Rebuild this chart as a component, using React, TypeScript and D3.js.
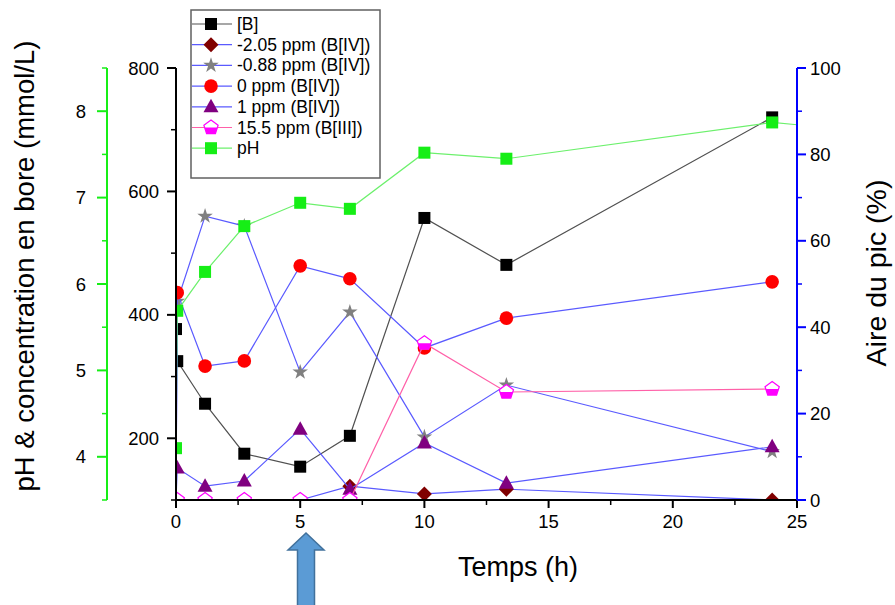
import React from "react";
import * as d3 from "d3";

// ---- data ----
const timeNMR = [0, 0.05, 1.17, 2.75, 5, 7, 10, 13.3, 24];
const boreConc = [377, 325, 256, 175, 154, 204, 557, 481, 720];
const areaM205 = [0, 0, 0, 0, 0, 3.2, 1.4, 2.5, 0];
const areaM088 = [0, 46, 65.7, 63.4, 29.6, 43.5, 14.6, 26.6, 11.2];
const area0 = [0, 48, 31, 32.2, 54.2, 51.2, 35.2, 42.1, 50.5];
const area1 = [0, 7.4, 3.2, 4.4, 16.4, 2.5, 13.2, 3.9, 12.3];
const area155 = [0, 0, 0, 0, 0, 0, 36.3, 25, 25.7];
const timePH = [0, 0.05, 1.17, 2.75, 5, 7, 10, 13.3, 24, 48];
const pHvals = [4.1, 5.69, 6.14, 6.67, 6.94, 6.87, 7.52, 7.45, 7.87, 7.23];

const xTicks = [0, 5, 10, 15, 20, 25];
const concTicks = [200, 400, 600, 800];
const pHTicks = [4, 5, 6, 7, 8];
const areaTicks = [0, 20, 40, 60, 80, 100];

const legendLabels = [
  "[B]",
  "-2.05 ppm (B[IV])",
  "-0.88 ppm (B[IV])",
  "0 ppm (B[IV])",
  "1 ppm (B[IV])",
  "15.5 ppm (B[III])",
  "pH",
];

// ---- layout ----
const W = 895, H = 605;
const X0 = 176, X1 = 797, YT = 68, YB = 500;
const GREEN_X = 107;
const FONT = "'Liberation Sans', Arial, sans-serif";

const x = d3.scaleLinear().domain([0, 25]).range([X0, X1]);
const yConc = d3.scaleLinear().domain([100, 800]).range([YB, YT]);
const yPH = d3.scaleLinear().domain([3.5, 8.5]).range([YB, YT]);
const yArea = d3.scaleLinear().domain([0, 100]).range([YB, YT]);

const BLUE_LINE = "#5a5aff";
const GREEN = "#16ee16";
const GREEN_LINE = "#6cf06c";
const PINK_LINE = "#ff60a8";

type MarkerKind = "square" | "diamond" | "star" | "circle" | "triangle" | "pentagon" | "greensq";

function Marker({ kind, cx, cy }: { kind: MarkerKind; cx: number; cy: number }) {
  const t = `translate(${cx},${cy})`;
  if (kind === "square")
    return <rect x={cx - 6} y={cy - 6} width={12} height={12} fill="#000" />;
  if (kind === "greensq")
    return <rect x={cx - 6} y={cy - 6} width={12} height={12} fill={GREEN} />;
  if (kind === "circle") return <circle cx={cx} cy={cy} r={6.8} fill="#ff0000" />;
  if (kind === "diamond")
    return <path transform={t} d="M0,-7.5L7.5,0L0,7.5L-7.5,0Z" fill="#800000" />;
  if (kind === "star")
    return <path transform={t} d={d3.symbol(d3.symbolStar, 75)() || ""} fill="#808080" />;
  if (kind === "triangle")
    return <path transform={t} d="M0,-8L7.5,5.5L-7.5,5.5Z" fill="#800080" />;
  // pentagon half filled
  const r = 7.5;
  const pts = d3.range(5).map((i) => {
    const a = ((-90 + i * 72) * Math.PI) / 180;
    return [r * Math.cos(a), r * Math.sin(a)];
  });
  const cut = r * Math.cos((-18 * Math.PI) / 180) - 0.7;
  return (
    <g transform={t}>
      <polygon points={pts.map((p) => p.join(",")).join(" ")} fill="#fff" />
      <polygon
        points={`${cut},0 ${pts[2][0]},${pts[2][1]} ${pts[3][0]},${pts[3][1]} ${-cut},0`}
        fill="#ff00ff"
      />
      <polygon points={pts.map((p) => p.join(",")).join(" ")} fill="none" stroke="#ff00ff" strokeWidth={1.2} />
    </g>
  );
}

type Series = {
  times: number[];
  vals: number[];
  y: d3.ScaleLinear<number, number>;
  line: string;
  marker: MarkerKind;
};

const series: Series[] = [
  { times: timeNMR, vals: boreConc, y: yConc, line: "#505050", marker: "square" },
  { times: timeNMR, vals: areaM205, y: yArea, line: BLUE_LINE, marker: "diamond" },
  { times: timeNMR, vals: areaM088, y: yArea, line: BLUE_LINE, marker: "star" },
  { times: timeNMR, vals: area0, y: yArea, line: BLUE_LINE, marker: "circle" },
  { times: timeNMR, vals: area1, y: yArea, line: BLUE_LINE, marker: "triangle" },
  { times: timeNMR, vals: area155, y: yArea, line: PINK_LINE, marker: "pentagon" },
  { times: timePH, vals: pHvals, y: yPH, line: GREEN_LINE, marker: "greensq" },
];

export default function App() {
  const tickFont = 18.5;
  const xMinor = d3.range(2.5, 25, 5);
  const concMinor = [100, 300, 500, 700];
  const pHMinor = d3.range(3.5, 8.6, 1);
  const areaMinor = d3.range(10, 100, 20);

  return (
    <svg
      width={W}
      height={H}
      viewBox={`0 0 ${W} ${H}`}
      style={{ position: "absolute", left: 0, top: 0, background: "#fff" }}
      fontFamily={FONT}
    >
      <defs>
        <clipPath id="plot">
          <rect x={X0} y={YT} width={X1 - X0} height={YB - YT} />
        </clipPath>
      </defs>

      {/* series */}
      <g clipPath="url(#plot)">
        {series.map((s, i) => {
          const line = d3
            .line<number>()
            .x((_, j) => x(s.times[j]))
            .y((v) => s.y(v));
          return (
            <g key={i}>
              <path d={line(s.vals) || ""} fill="none" stroke={s.line} strokeWidth={1.2} />
              {s.vals.map((v, j) => (
                <Marker key={j} kind={s.marker} cx={x(s.times[j])} cy={s.y(v)} />
              ))}
            </g>
          );
        })}
      </g>

      {/* x axis */}
      <line x1={X0} x2={X1} y1={YB} y2={YB} stroke="#000" strokeWidth={2} />
      {xTicks.map((t) => (
        <g key={t}>
          <line x1={x(t)} x2={x(t)} y1={YB} y2={YB + 8} stroke="#000" strokeWidth={2} />
          <text x={x(t)} y={YB + 28} textAnchor="middle" fontSize={tickFont}>
            {t}
          </text>
        </g>
      ))}
      {xMinor.map((t) => (
        <line key={t} x1={x(t)} x2={x(t)} y1={YB} y2={YB + 5} stroke="#000" strokeWidth={1.5} />
      ))}
      <text x={518} y={576} textAnchor="middle" fontSize={27}>
        Temps (h)
      </text>

      {/* left conc axis */}
      <line x1={X0} x2={X0} y1={YT} y2={YB + 1} stroke="#000" strokeWidth={2} />
      {concTicks.map((v) => (
        <g key={v}>
          <line x1={X0 - 9} x2={X0} y1={yConc(v)} y2={yConc(v)} stroke="#000" strokeWidth={2} />
          <text x={X0 - 17} y={yConc(v) + 6.5} textAnchor="end" fontSize={tickFont}>
            {v}
          </text>
        </g>
      ))}
      {concMinor.map((v) => (
        <line key={v} x1={X0 - 5} x2={X0} y1={yConc(v)} y2={yConc(v)} stroke="#000" strokeWidth={1.5} />
      ))}

      {/* green pH axis */}
      <line x1={GREEN_X} x2={GREEN_X} y1={YT} y2={YB} stroke={GREEN} strokeWidth={2} />
      {pHTicks.map((v) => (
        <g key={v}>
          <line x1={GREEN_X - 10} x2={GREEN_X} y1={yPH(v)} y2={yPH(v)} stroke={GREEN} strokeWidth={2} />
          <text x={81} y={yPH(v) + 6.5} textAnchor="middle" fontSize={tickFont}>
            {v}
          </text>
        </g>
      ))}
      {pHMinor.map((v) => (
        <line key={v} x1={GREEN_X - 5} x2={GREEN_X} y1={yPH(v)} y2={yPH(v)} stroke={GREEN} strokeWidth={1.5} />
      ))}
      <text
        transform={`translate(34,266) rotate(-90)`}
        textAnchor="middle"
        fontSize={27.5}
      >
        pH &amp; concentration en bore (mmol/L)
      </text>

      {/* right area axis */}
      <line x1={X1} x2={X1} y1={YT} y2={YB} stroke="#0000ff" strokeWidth={2} />
      {areaTicks.map((v) => (
        <g key={v}>
          <line x1={X1} x2={X1 + 9} y1={yArea(v)} y2={yArea(v)} stroke="#0000ff" strokeWidth={2} />
          <text x={X1 + 13} y={yArea(v) + 6.5} textAnchor="start" fontSize={tickFont}>
            {v}
          </text>
        </g>
      ))}
      {areaMinor.map((v) => (
        <line key={v} x1={X1} x2={X1 + 5} y1={yArea(v)} y2={yArea(v)} stroke="#0000ff" strokeWidth={1.5} />
      ))}
      <text transform={`translate(886,273) rotate(-90)`} textAnchor="middle" fontSize={28.5}>
        Aire du pic (%)
      </text>

      {/* legend */}
      <rect x={191} y={10} width={189} height={168} fill="#fff" stroke="#606060" strokeWidth={1.5} />
      {series.map((s, i) => {
        const cy = 24 + i * 20.7;
        return (
          <g key={i}>
            <line x1={192} x2={232} y1={cy} y2={cy} stroke={s.line} strokeWidth={1.2} />
            <Marker kind={s.marker} cx={211} cy={cy} />
            <text x={237} y={cy + 6} fontSize={17.5}>
              {legendLabels[i]}
            </text>
          </g>
        );
      })}

      {/* arrow */}
      <path
        d="M306,533 L324,550 L314.5,550 L314.5,607 L297.5,607 L297.5,550 L288,550 Z"
        fill="#5b9bd5"
        stroke="#41719c"
        strokeWidth={1.5}
      />
    </svg>
  );
}
